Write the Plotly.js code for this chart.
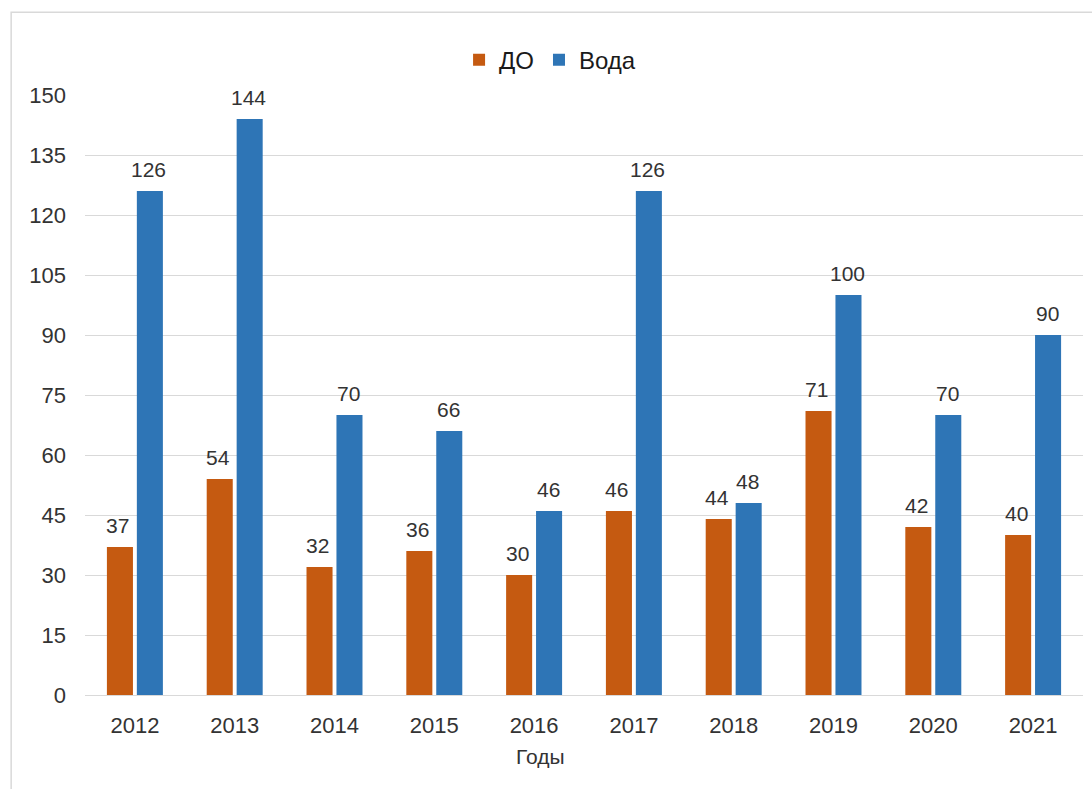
<!DOCTYPE html>
<html>
<head>
<meta charset="utf-8">
<script src="https://cdn.plot.ly/plotly-3.0.1.min.js"></script>
<style>html,body{margin:0;padding:0;background:#fff;}#chart{width:1092px;height:789px;}</style>
</head>
<body>
<div id="chart"></div>
<script>
const years = ["2012","2013","2014","2015","2016","2017","2018","2019","2020","2021"];
const doValues = [37, 54, 32, 36, 30, 46, 44, 71, 42, 40];
const vodaValues = [126, 144, 70, 66, 46, 126, 48, 100, 70, 90];
const seriesNames = ["ДО", "Вода"];
const yTicks = [0, 15, 30, 45, 60, 75, 90, 105, 120, 135, 150];

const FONT = "Liberation Sans, Arial, sans-serif";
const TXT = "#333333";

const traces = [
  {type: "bar", name: seriesNames[0], x: years, y: doValues, marker: {color: "#C55A11"}, hoverinfo: "none"},
  {type: "bar", name: seriesNames[1], x: years, y: vodaValues, marker: {color: "#2E75B6"}, hoverinfo: "none"}
];

const annotations = [];
years.forEach((yr, i) => {
  annotations.push({x: i, y: doValues[i], xref: "x", yref: "y", text: String(doValues[i]), showarrow: false,
    xshift: -17, yshift: 22, yanchor: "middle", font: {family: FONT, size: 21, color: TXT}});
  annotations.push({x: i, y: vodaValues[i], xref: "x", yref: "y", text: String(vodaValues[i]), showarrow: false,
    xshift: 14, yshift: 22, yanchor: "middle", font: {family: FONT, size: 21, color: TXT}});
});
annotations.push({x: 0.456, y: -0.103, xref: "paper", yref: "paper", text: "Годы", showarrow: false,
  xanchor: "center", yanchor: "middle", font: {family: FONT, size: 21, color: TXT}});

const layout = {
  width: 1092, height: 789,
  margin: {l: 85, r: 9, t: 95, b: 94},
  paper_bgcolor: "#ffffff", plot_bgcolor: "#ffffff",
  font: {family: FONT, size: 21, color: TXT},
  barmode: "group", bargap: 0.4, bargroupgap: 0.13,
  showlegend: true,
  legend: {orientation: "h", x: 0.466, xanchor: "center", y: 1.058, yanchor: "middle",
    font: {family: FONT, size: 24, color: "#1a1a1a"}, traceorder: "normal", bgcolor: "rgba(0,0,0,0)"},
  xaxis: {type: "category", range: [-0.5, 9.5], autorange: false, showgrid: false, showline: true,
    linecolor: "#d9d9d9", linewidth: 1,
    ticks: "", ticklabelstandoff: 11, tickfont: {family: FONT, size: 22, color: TXT}, fixedrange: true},
  yaxis: {range: [0, 150], autorange: false, tickvals: yTicks, showgrid: true, gridcolor: "#d9d9d9", gridwidth: 1,
    zeroline: false, showline: false, ticks: "", ticklabelstandoff: 18,
    tickfont: {family: FONT, size: 22, color: TXT}, fixedrange: true},
  annotations: annotations,
  shapes: [{type: "rect", xref: "paper", yref: "paper", x0: -0.074, x1: 1.2, y0: -0.3, y1: 1.138,
    line: {color: "#d9d9d9", width: 1.5}, fillcolor: "rgba(0,0,0,0)", layer: "below"}]
};

Plotly.newPlot("chart", traces, layout, {displayModeBar: false, staticPlot: true});
</script>
</body>
</html>
